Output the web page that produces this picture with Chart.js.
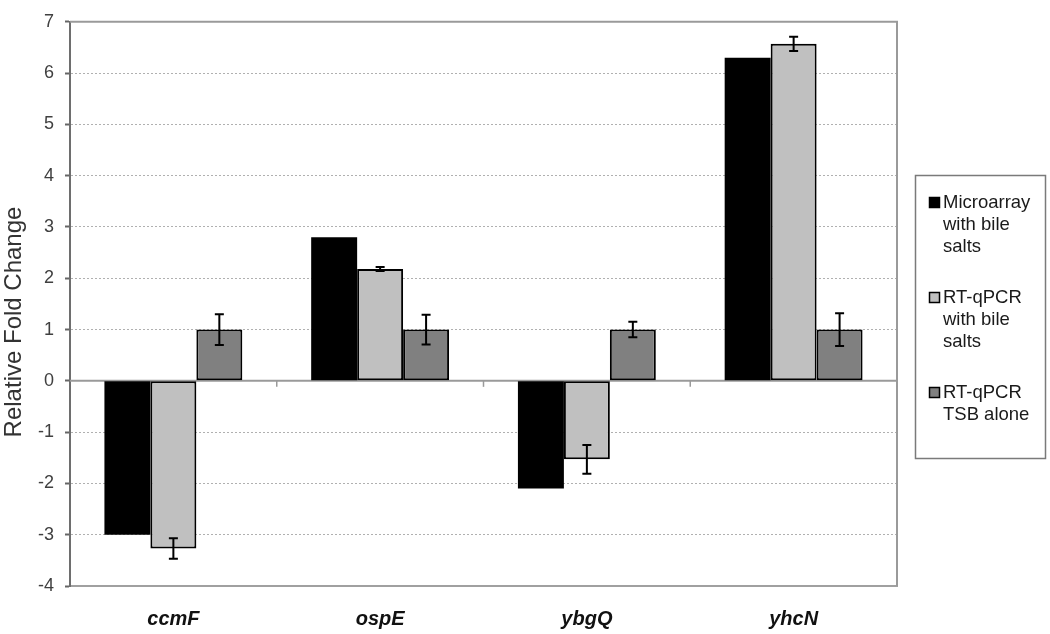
<!DOCTYPE html>
<html>
<head>
<meta charset="utf-8">
<script src="https://cdn.jsdelivr.net/npm/chart.js@4/dist/chart.umd.min.js"></script>
<style>
  html, body { margin: 0; padding: 0; background: #fff; }
  #wrap { width: 1050px; height: 634px; }
</style>
</head>
<body>
<div id="wrap"><canvas id="myChart" width="1050" height="634"></canvas></div>
<script>
// gene names on the x axis
const genes = ['ccmF', 'ospE', 'ybgQ', 'yhcN'];

// series values (relative fold change)
const microarray = [-3.0, 2.8, -2.1, 6.3];
const rtqpcrBile = [-3.27, 2.18, -1.53, 6.57];
const rtqpcrTsb = [1, 1, 1, 1];

// error bar half widths (0 = none)
const microarrayErr = [0, 0, 0, 0];
const rtqpcrBileErr = [0.2, 0.04, 0.28, 0.14];
const rtqpcrTsbErr = [0.3, 0.29, 0.15, 0.32];

// legend text, one line per entry
const legendLines = [
    ['Microarray', 'with bile', 'salts'],
    ['RT-qPCR', 'with bile', 'salts'],
    ['RT-qPCR', 'TSB alone']
];

const yTicks = [-4, -3, -2, -1, 0, 1, 2, 3, 4, 5, 6, 7];
const yTitle = 'Relative Fold Change';

const colors = ['#000000', '#c0c0c0', '#808080'];
const errors = [microarrayErr, rtqpcrBileErr, rtqpcrTsbErr];

// frame, zero line and category ticks
const framePlugin = {
    id: 'frame',
    beforeDatasetsDraw(chart) {
        const { ctx, chartArea: a, scales: { x, y } } = chart;
        ctx.save();
        ctx.strokeStyle = '#9a9a9a';
        ctx.lineWidth = 2;
        ctx.beginPath();
        ctx.moveTo(a.left, a.top);
        ctx.lineTo(a.right, a.top);
        ctx.lineTo(a.right, a.bottom);
        ctx.stroke();
        const y0 = y.getPixelForValue(0);
        ctx.beginPath();
        ctx.moveTo(a.left, y0);
        ctx.lineTo(a.right, y0);
        ctx.stroke();
        ctx.lineWidth = 1.5;
        for (let i = 0; i < genes.length; i++) {
            const bx = i < genes.length - 1
                ? (x.getPixelForTick(i) + x.getPixelForTick(i + 1)) / 2
                : a.right;
            ctx.beginPath();
            ctx.moveTo(bx, y0);
            ctx.lineTo(bx, y0 + 6);
            ctx.stroke();
        }
        ctx.restore();
    }
};

const errorBarPlugin = {
    id: 'errorBars',
    afterDatasetsDraw(chart) {
        const { ctx, scales: { y } } = chart;
        ctx.save();
        ctx.strokeStyle = '#000';
        ctx.lineWidth = 2;
        chart.data.datasets.forEach((ds, i) => {
            const meta = chart.getDatasetMeta(i);
            meta.data.forEach((bar, j) => {
                const e = errors[i][j];
                if (!e) return;
                const v = ds.data[j];
                const y1 = y.getPixelForValue(v + e);
                const y2 = y.getPixelForValue(v - e);
                ctx.beginPath();
                ctx.moveTo(bar.x, y1);
                ctx.lineTo(bar.x, y2);
                ctx.moveTo(bar.x - 4.5, y1);
                ctx.lineTo(bar.x + 4.5, y1);
                ctx.moveTo(bar.x - 4.5, y2);
                ctx.lineTo(bar.x + 4.5, y2);
                ctx.stroke();
            });
        });
        ctx.restore();
    }
};

// y title and the boxed legend on the right
const textPlugin = {
    id: 'texts',
    afterDraw(chart) {
        const ctx = chart.ctx;
        ctx.save();
        ctx.fillStyle = '#333';
        ctx.font = '24px Arial, "Liberation Sans", sans-serif';
        ctx.textAlign = 'center';
        ctx.textBaseline = 'middle';
        ctx.translate(14, 322);
        ctx.rotate(-Math.PI / 2);
        ctx.fillText(yTitle, 0, 0);
        ctx.restore();

        ctx.save();
        ctx.strokeStyle = '#7a7a7a';
        ctx.lineWidth = 1.5;
        ctx.strokeRect(915.5, 175.5, 130, 283);
        ctx.font = '18.5px Arial, "Liberation Sans", sans-serif';
        ctx.textAlign = 'left';
        ctx.textBaseline = 'alphabetic';
        const starts = [208, 303, 398];
        legendLines.forEach((lines, i) => {
            const by = starts[i];
            ctx.fillStyle = colors[i];
            ctx.fillRect(929, by - 11, 11, 11);
            ctx.strokeStyle = '#000';
            ctx.lineWidth = 1.5;
            ctx.strokeRect(929.5, by - 10.5, 10, 10);
            ctx.fillStyle = '#1a1a1a';
            lines.forEach((t, k) => ctx.fillText(t, 943, by + k * 22));
        });
        ctx.restore();
    }
};

const data = {
    labels: genes,
    datasets: [
        { label: legendLines[0].join(' '), data: microarray, backgroundColor: colors[0], borderColor: '#000', borderWidth: 0 },
        { label: legendLines[1].join(' '), data: rtqpcrBile, backgroundColor: colors[1], borderColor: '#000', borderWidth: 2 },
        { label: legendLines[2].join(' '), data: rtqpcrTsb, backgroundColor: colors[2], borderColor: '#000', borderWidth: 2 }
    ]
};

new Chart(document.getElementById('myChart'), {
    type: 'bar',
    data: data,
    options: {
        responsive: false,
        animation: false,
        devicePixelRatio: 1,
        layout: { padding: { top: 10, right: 153, left: 0, bottom: 0 } },
        datasets: { bar: { categoryPercentage: 0.667, barPercentage: 1, borderSkipped: false } },
        plugins: {
            legend: { display: false },
            tooltip: { enabled: false }
        },
        scales: {
            x: {
                afterFit: s => { s.height = 48; },
                grid: { display: false, drawTicks: false },
                border: { display: true, color: '#a0a0a0', width: 2 },
                ticks: {
                    padding: 21,
                    color: '#111',
                    font: { family: 'Arial, "Liberation Sans", sans-serif', size: 20, weight: 'bold', style: 'italic' }
                }
            },
            y: {
                min: -4,
                max: 7,
                afterFit: s => { s.width = 70; },
                afterBuildTicks: s => { s.ticks = yTicks.map(v => ({ value: v })); },
                grid: { color: '#b0b0b0', lineWidth: 1, tickLength: 5, tickColor: '#666', tickWidth: 2 },
                border: { display: true, color: '#6e6e6e', width: 2, dash: [2, 2] },
                ticks: {
                    padding: 11,
                    color: '#404040',
                    font: { family: 'Arial, "Liberation Sans", sans-serif', size: 18 }
                }
            }
        }
    },
    plugins: [framePlugin, errorBarPlugin, textPlugin]
});
</script>
</body>
</html>
